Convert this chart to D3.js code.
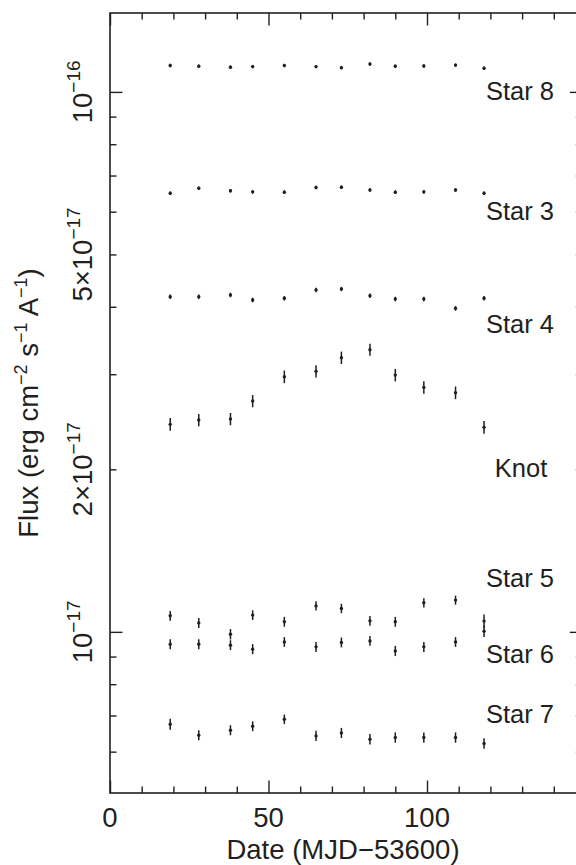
<!DOCTYPE html>
<html>
<head>
<meta charset="utf-8">
<script src="https://cdn.jsdelivr.net/npm/d3@7"></script>
<style>
  html, body { margin: 0; padding: 0; background: #fff; }
  svg { display: block; font-family: "Liberation Sans", Arial, Helvetica, sans-serif; }
</style>
</head>
<body>
<script>
// Observation dates (MJD - 53600)
const dates = [19, 28, 38, 45, 55, 65, 73, 82, 90, 99, 109, 118];

// Fluxes in units of 1e-17 erg cm^-2 s^-1 A^-1
const star8 = [11.19, 11.16, 11.11, 11.14, 11.19, 11.14, 11.09, 11.26, 11.16, 11.17, 11.21, 11.06];
const star8Err = [0.08, 0.08, 0.08, 0.08, 0.08, 0.08, 0.08, 0.08, 0.08, 0.08, 0.08, 0.08];
const star3 = [6.49, 6.63, 6.56, 6.53, 6.52, 6.65, 6.66, 6.58, 6.52, 6.53, 6.58, 6.49];
const star3Err = [0.05, 0.05, 0.05, 0.05, 0.05, 0.05, 0.05, 0.05, 0.05, 0.05, 0.05, 0.05];
const star4 = [4.175, 4.175, 4.206, 4.117, 4.147, 4.296, 4.315, 4.194, 4.135, 4.135, 3.973, 4.147];
const star4Err = [0.04, 0.04, 0.04, 0.04, 0.04, 0.04, 0.04, 0.04, 0.04, 0.04, 0.04, 0.04];
const knot = [2.423, 2.468, 2.478, 2.676, 2.968, 3.037, 3.219, 3.331, 2.989, 2.836, 2.772, 2.392];
const knotErr = [0.065, 0.065, 0.065, 0.07, 0.08, 0.08, 0.085, 0.085, 0.08, 0.075, 0.075, 0.065];
const star5 = [1.071, 1.039, 0.990, 1.074, 1.044, 1.117, 1.105, 1.048, 1.044, 1.132, 1.145, 1.047];
const star5Err = [0.022, 0.022, 0.022, 0.022, 0.022, 0.022, 0.022, 0.022, 0.022, 0.022, 0.022, 0.03];
const star6 = [0.949, 0.949, 0.945, 0.929, 0.958, 0.938, 0.956, 0.962, 0.922, 0.938, 0.958, 1.003];
const star6Err = [0.02, 0.02, 0.02, 0.02, 0.02, 0.02, 0.02, 0.02, 0.02, 0.02, 0.02, 0.025];
const star7 = [0.6745, 0.6436, 0.6575, 0.6687, 0.689, 0.6416, 0.650, 0.6327, 0.6373, 0.6373, 0.6373, 0.6212];
const star7Err = [0.016, 0.014, 0.014, 0.014, 0.014, 0.014, 0.014, 0.014, 0.014, 0.014, 0.014, 0.014];

// Series labels and their anchor in data coordinates (date, flux)
const seriesNames = ["Star 8", "Star 3", "Star 4", "Knot", "Star 5", "Star 6", "Star 7"];
const labelDates = [118.6, 118.6, 118.6, 121.4, 118.6, 118.6, 118.6];
const labelFluxes = [9.66, 5.79, 3.58, 1.935, 1.21, 0.875, 0.677];

// Axis ticks
const xMajorTicks = [0, 50, 100];
const xMinorTicks = [10, 20, 30, 40, 60, 70, 80, 90, 110, 120, 130, 140];
const yMajorTicks = [1, 10];
const yMinorTicks = [0.6, 0.7, 0.8, 0.9, 2, 3, 4, 5, 6, 7, 8, 9];
const yLabelTicks = [1, 2, 5, 10];
const yLabelMain = ["10", "2\u00d710", "5\u00d710", "10"];
const yLabelExp = ["\u221217", "\u221217", "\u221217", "\u221216"];

const seriesFlux = [star8, star3, star4, knot, star5, star6, star7];
const seriesErr = [star8Err, star3Err, star4Err, knotErr, star5Err, star6Err, star7Err];

const W = 576, H = 865;
const margin = { top: 13, left: 110 };
const ink = "#231f20";

const svg = d3.select("body").append("svg")
    .attr("width", W)
    .attr("height", H)
    .attr("viewBox", [0, 0, W, H]);

// Scales
const x = d3.scaleLinear()
    .domain([0, 149])
    .range([margin.left, margin.left + 3.17 * 149]);

const y = d3.scaleLog()
    .domain([0.503, 14.0])
    .range([793, margin.top]);

const [x0, x1] = x.range();
const [yB, yT] = y.range();

// Frame
svg.append("rect")
    .attr("x", x0).attr("y", yT)
    .attr("width", x1 - x0).attr("height", yB - yT)
    .attr("fill", "none")
    .attr("stroke", ink)
    .attr("stroke-width", 1.6);

function tickAxis(axis, values, size, transform) {
    svg.append("g")
        .attr("transform", transform)
        .call(axis.tickValues(values).tickSize(size).tickFormat(""))
        .call(g => g.select(".domain").remove())
        .selectAll("line")
        .attr("stroke", ink)
        .attr("stroke-width", 1.4);
}

const majorLen = 12.5, minorLen = 6.5;

// x ticks, bottom (pointing up) and top (pointing down)
tickAxis(d3.axisBottom(x), xMajorTicks, -majorLen, `translate(0,${yB})`);
tickAxis(d3.axisBottom(x), xMinorTicks, -minorLen, `translate(0,${yB})`);
tickAxis(d3.axisTop(x), xMajorTicks, -majorLen, `translate(0,${yT})`);
tickAxis(d3.axisTop(x), xMinorTicks, -minorLen, `translate(0,${yT})`);

// y ticks, left (pointing right) and right (pointing left)
tickAxis(d3.axisLeft(y), yMajorTicks, -majorLen, `translate(${x0},0)`);
tickAxis(d3.axisLeft(y), yMinorTicks, -minorLen, `translate(${x0},0)`);
tickAxis(d3.axisRight(y), yMajorTicks, -majorLen, `translate(${x1},0)`);
tickAxis(d3.axisRight(y), yMinorTicks, -minorLen, `translate(${x1},0)`);

// x tick labels
svg.append("g")
    .selectAll("text")
    .data(xMajorTicks)
    .join("text")
    .attr("x", d => x(d))
    .attr("y", 826.5)
    .attr("text-anchor", "middle")
    .attr("font-size", 27.5)
    .attr("fill", ink)
    .text(d => d);

// y tick labels (rotated, with superscript exponents)
const yLab = svg.append("g")
    .selectAll("text")
    .data(yLabelTicks)
    .join("text")
    .attr("transform", d => `translate(92,${y(d)}) rotate(-90)`)
    .attr("text-anchor", "middle")
    .attr("font-size", 27.5)
    .attr("fill", ink);

yLab.append("tspan").text((d, i) => yLabelMain[i]);
yLab.append("tspan")
    .attr("font-size", 19)
    .attr("dy", -12)
    .text((d, i) => yLabelExp[i]);

// Axis titles
svg.append("text")
    .attr("x", 343)
    .attr("y", 859)
    .attr("text-anchor", "middle")
    .attr("font-size", 27.5)
    .attr("fill", ink)
    .text("Date (MJD\u221253600)");

const yTitle = svg.append("text")
    .attr("transform", "translate(37.5,403) rotate(-90)")
    .attr("text-anchor", "middle")
    .attr("font-size", 27.5)
    .attr("fill", ink);

const titleParts = [
    ["Flux (erg cm", false], ["\u22122", true], [" s", false],
    ["\u22121", true], [" A", false], ["\u22121", true], [")", false]
];
titleParts.forEach(([t, sup], i) => {
    const prevSup = i > 0 && titleParts[i - 1][1];
    yTitle.append("tspan")
        .attr("font-size", sup ? 18 : 27.5)
        .attr("dy", sup ? -11 : (prevSup ? 11 : 0))
        .text(t);
});

// Data points with error bars
const plotData = seriesNames.map((name, s) => ({
    name,
    points: dates.map((d, i) => ({ date: d, flux: seriesFlux[s][i], err: seriesErr[s][i] }))
}));

const groups = svg.append("g")
    .selectAll("g")
    .data(plotData)
    .join("g");

groups.selectAll("line")
    .data(d => d.points)
    .join("line")
    .attr("x1", d => x(d.date))
    .attr("x2", d => x(d.date))
    .attr("y1", d => y(d.flux - d.err))
    .attr("y2", d => y(d.flux + d.err))
    .attr("stroke", ink)
    .attr("stroke-width", 1.5);

groups.selectAll("circle")
    .data(d => d.points)
    .join("circle")
    .attr("cx", d => x(d.date))
    .attr("cy", d => y(d.flux))
    .attr("r", 1.7)
    .attr("fill", ink);

// Series labels
svg.append("g")
    .selectAll("text")
    .data(seriesNames)
    .join("text")
    .attr("x", (d, i) => x(labelDates[i]))
    .attr("y", (d, i) => y(labelFluxes[i]))
    .attr("font-size", 25.5)
    .attr("fill", ink)
    .text(d => d);
</script>
</body>
</html>
